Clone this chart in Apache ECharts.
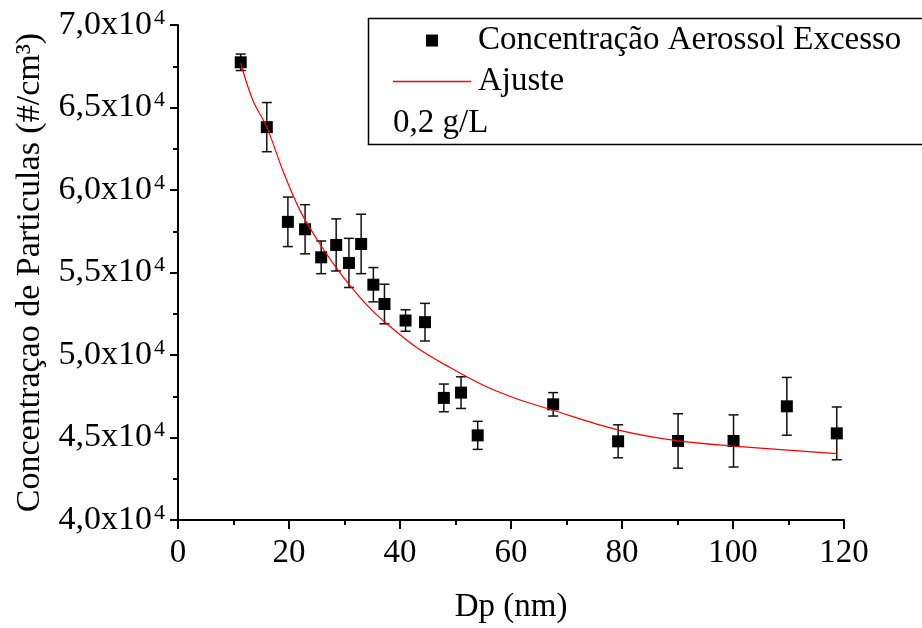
<!DOCTYPE html>
<html>
<head>
<meta charset="utf-8">
<script src="https://cdn.jsdelivr.net/npm/echarts@6/dist/echarts.min.js"></script>
<style>
  html, body { margin: 0; padding: 0; background: #fff; }
  #chart { width: 922px; height: 628px; }
</style>
</head>
<body>
<div id="chart"></div>
<script>
// Particle diameter (nm)
const dp = [11.3, 16.0, 19.8, 22.9, 25.8, 28.5, 30.8, 33.0, 35.2, 37.2, 41.0,
            44.5, 47.9, 51.0, 54.0, 67.6, 79.3, 90.1, 100.1, 109.7, 118.7];
// Excess aerosol concentration (#/cm3)
const conc = [67740, 63810, 58070, 57620, 55920, 56670, 55580, 56730, 54260, 53090, 52090,
              51990, 47400, 47720, 45130, 47010, 44770, 44790, 44790, 46890, 45250];
// Standard error of each point (#/cm3)
const err = [500, 1490, 1500, 1490, 990, 1580, 1490, 1800, 1040, 1200, 650,
             1140, 840, 960, 850, 710, 1000, 1650, 1580, 1750, 1600];
// Fitted decay curve (Ajuste)
const fitDp = [11.3, 13.5, 16.0, 19.0, 22.0, 25.0, 28.0, 31.0, 34.0, 37.0, 43.0,
               49.0, 55.0, 61.0, 67.0, 79.4, 90.2, 100.1, 118.7];
const fitConc = [67680, 65420, 63810, 61080, 58750, 57030, 55520, 54200, 53040, 52070, 50450,
                 49240, 48170, 47350, 46710, 45450, 44790, 44480, 44020];
// Axis ticks
const xTicks = [0, 20, 40, 60, 80, 100, 120];
const yTicks = [40000, 45000, 50000, 55000, 60000, 65000, 70000];
const yTickLabels = ['4,0', '4,5', '5,0', '5,5', '6,0', '6,5', '7,0'];

const serieName = 'Concentração Aerossol Excesso';
const fitName = 'Ajuste';
const FONT = '"Liberation Serif", "Times New Roman", serif';

const points = dp.map((x, i) => [x, conc[i]]);
const bars = dp.map((x, i) => [x, conc[i], err[i]]);
const fit = fitDp.map((x, i) => [x, fitConc[i]]);

const chart = echarts.init(document.getElementById('chart'), null, { renderer: 'canvas' });

const axisStroke = { color: '#000', width: 2 };

const option = {
  backgroundColor: '#ffffff',
  animation: false,
  textStyle: { fontFamily: FONT, color: '#000' },
  grid: { left: 178, right: 78, top: 25, bottom: 108, containLabel: false, outerBoundsMode: 'none' },
  xAxis: {
    type: 'value',
    min: xTicks[0],
    max: xTicks[xTicks.length - 1],
    interval: xTicks[1] - xTicks[0],
    name: 'Dp (nm)',
    nameLocation: 'middle',
    nameGap: 71,
    nameTextStyle: { fontFamily: FONT, fontSize: 33, color: '#000' },
    axisLine: { show: true, onZero: false, lineStyle: axisStroke },
    axisTick: { show: true, inside: false, length: 9, lineStyle: axisStroke },
    minorTick: { show: true, splitNumber: 2, length: 5, lineStyle: axisStroke },
    splitLine: { show: false },
    axisLabel: { fontFamily: FONT, fontSize: 33, color: '#000', margin: 17 }
  },
  yAxis: {
    type: 'value',
    min: yTicks[0],
    max: yTicks[yTicks.length - 1],
    interval: yTicks[1] - yTicks[0],
    name: 'Concentraçao de Particulas (#/cm³)',
    nameLocation: 'middle',
    nameGap: 131,
    nameRotate: 90,
    nameTextStyle: { fontFamily: FONT, fontSize: 34, color: '#000' },
    axisLine: { show: true, onZero: false, lineStyle: axisStroke },
    axisTick: { show: true, inside: false, length: 8, lineStyle: axisStroke },
    minorTick: { show: true, splitNumber: 2, length: 5, lineStyle: axisStroke },
    splitLine: { show: false },
    axisLabel: {
      margin: 13,
      formatter: function (v) {
        const i = yTicks.indexOf(v);
        return '{m|' + yTickLabels[i] + 'x10}{e|4}';
      },
      rich: {
        m: { fontFamily: FONT, fontSize: 34, color: '#000', lineHeight: 36 },
        e: { fontFamily: FONT, fontSize: 22, color: '#000', verticalAlign: 'top', lineHeight: 22, padding: [0, 0, 16, 2] }
      }
    }
  },
  legend: [
    {
      data: [serieName],
      left: 426,
      top: 24,
      padding: 0,
      itemWidth: 12,
      itemHeight: 12,
      selectedMode: false,
      textStyle: { fontFamily: FONT, fontSize: 33, color: '#000', padding: [0, 0, 0, 35] }
    },
    {
      data: [{ name: fitName, icon: 'rect' }],
      left: 393,
      top: 65,
      padding: 0,
      itemWidth: 78,
      itemHeight: 1.4,
      selectedMode: false,
      textStyle: { fontFamily: FONT, fontSize: 33, color: '#000', padding: [0, 0, 0, 2] }
    }
  ],
  graphic: [
    {
      type: 'rect',
      left: 366,
      top: 16,
      shape: { width: 600, height: 126 },
      style: { fill: 'none', stroke: '#000', lineWidth: 1.5 },
      silent: true
    },
    {
      type: 'text',
      left: 393,
      top: 107,
      style: { text: '0,2 g/L', fontFamily: FONT, fontSize: 33, fill: '#000' },
      silent: true
    }
  ],
  series: [
    {
      name: 'erro',
      type: 'custom',
      data: bars,
      z: 2,
      silent: true,
      renderItem: function (params, api) {
        const x = api.value(0), y = api.value(1), e = api.value(2);
        const top = api.coord([x, y + e]);
        const bot = api.coord([x, y - e]);
        const cap = 5;
        const style = { stroke: '#111', lineWidth: 1.5 };
        return {
          type: 'group',
          children: [
            { type: 'line', shape: { x1: top[0], y1: top[1], x2: bot[0], y2: bot[1] }, style: style },
            { type: 'line', shape: { x1: top[0] - cap, y1: top[1], x2: top[0] + cap, y2: top[1] }, style: style },
            { type: 'line', shape: { x1: bot[0] - cap, y1: bot[1], x2: bot[0] + cap, y2: bot[1] }, style: style }
          ]
        };
      }
    },
    {
      name: serieName,
      type: 'scatter',
      data: points,
      symbol: 'rect',
      symbolSize: 12,
      itemStyle: { color: '#000', opacity: 1 },
      z: 3
    },
    {
      name: fitName,
      type: 'line',
      data: fit,
      smooth: 0.35,
      symbol: 'none',
      showSymbol: false,
      lineStyle: { color: '#ff0000', width: 1.2 },
      itemStyle: { color: '#ff0000' },
      z: 4
    }
  ]
};

chart.setOption(option);
</script>
</body>
</html>
